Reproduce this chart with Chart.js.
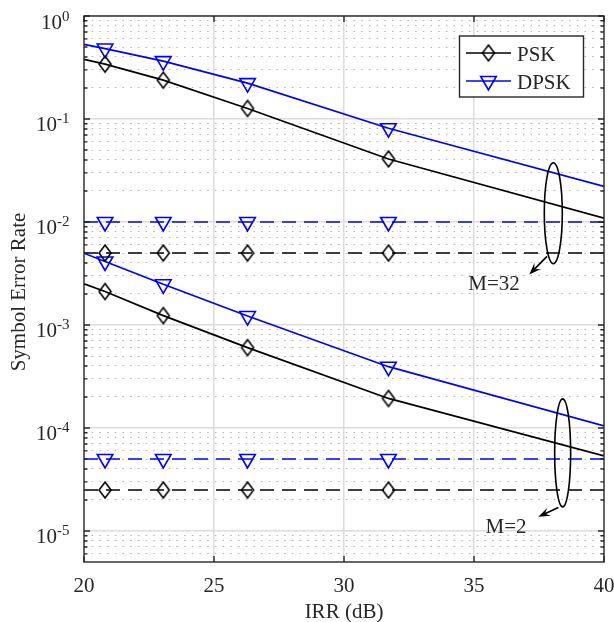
<!DOCTYPE html>
<html>
<head>
<meta charset="utf-8">
<title>Symbol Error Rate vs IRR</title>
<script src="https://cdn.jsdelivr.net/npm/chart.js@4.4.1/dist/chart.umd.min.js"></script>
<style>
    html, body { margin: 0; padding: 0; background: #ffffff; }
    #wrap { width: 614px; height: 622px; }
</style>
</head>
<body>
<div id="wrap"><canvas id="serChart" width="614" height="622"></canvas></div>
<script>
// IRR (dB) where the curves are evaluated; markers sit on the middle four
const irrPoints = [20, 20.81, 23.05, 26.29, 31.71, 40];
const markerShown = [false, true, true, true, true, false];

// M = 32
const pskM32 = [0.379, 0.341, 0.2384, 0.1265, 0.0409, 0.01091];
const dpskM32 = [0.5305, 0.483, 0.365, 0.2229, 0.0814, 0.0222];
const pskFloorM32 = [5e-3, 5e-3, 5e-3, 5e-3, 5e-3, 5e-3];
const dpskFloorM32 = [1e-2, 1e-2, 1e-2, 1e-2, 1e-2, 1e-2];

// M = 2
const pskM2 = [2.51e-3, 2.113e-3, 1.234e-3, 6.03e-4, 1.936e-4, 5.365e-5];
const dpskM2 = [4.98e-3, 4.137e-3, 2.483e-3, 1.221e-3, 3.938e-4, 1.05e-4];
const pskFloorM2 = [2.5e-5, 2.5e-5, 2.5e-5, 2.5e-5, 2.5e-5, 2.5e-5];
const dpskFloorM2 = [5e-5, 5e-5, 5e-5, 5e-5, 5e-5, 5e-5];

// axes
const xTicks = [20, 25, 30, 35, 40];
const yDecades = [1e-5, 1e-4, 1e-3, 1e-2, 1e-1, 1];
const yExponents = ['-5', '-4', '-3', '-2', '-1', '0'];
const yMinorSteps = [2, 3, 4, 5, 6, 7, 8, 9];
const yMin = 5e-6, yMax = 1;

const serif = '"Liberation Serif", "Times New Roman", serif';
const ink = '#262626';
const black = '#000000';
const blue = '#0000ff';

function diamondImage(color) {
    const c = document.createElement('canvas');
    c.width = 16; c.height = 20;
    const g = c.getContext('2d');
    g.strokeStyle = color;
    g.lineWidth = 1.6;
    g.beginPath();
    g.moveTo(8, 2); g.lineTo(14, 10); g.lineTo(8, 18); g.lineTo(2, 10);
    g.closePath();
    g.stroke();
    return c;
}

const diamondMarker = { pointStyle: diamondImage(black), rotation: 0, radius: 7 };
const triangleMarker = { pointStyle: 'triangle', rotation: 180, radius: 9 };

function series(values, color, marker, dashed, legendLabel) {
    return {
        label: legendLabel || '',
        showInLegend: !!legendLabel,
        data: irrPoints.map((x, i) => ({ x: x, y: values[i] })),
        borderColor: color,
        borderWidth: 1.7,
        borderDash: dashed ? [14, 8] : [],
        pointStyle: marker.pointStyle,
        pointRotation: marker.rotation,
        pointRadius: markerShown.map(m => m ? marker.radius : 0),
        pointHoverRadius: 0,
        pointBorderColor: color,
        pointBackgroundColor: 'rgba(0,0,0,0)',
        pointBorderWidth: 1.6,
        tension: 0,
        fill: false
    };
}

// ellipse + arrow callouts, anchored in data coordinates, offsets in px
const callouts = [
    { text: 'M=32', x: 38.05, y: 0.01218, rx: 9, ry: 50.5, from: [-6.3, 43.2], to: [-24, 61.2], label: [-59.3, 76.7] },
    { text: 'M=2', x: 38.41, y: 5.74e-5, rx: 8, ry: 54, from: [-4.3, 54.7], to: [-24.3, 64], label: [-56.6, 80.5] }
];

const minorValues = [];
[-6, -5, -4, -3, -2, -1].forEach(e => {
    yMinorSteps.forEach(m => {
        const v = m * Math.pow(10, e);
        if (v > yMin && v < yMax) minorValues.push(v);
    });
});

const decorations = {
    id: 'decorations',
    afterDraw(chart) {
        const ctx = chart.ctx;
        const a = chart.chartArea;
        const xs = chart.scales.x, ys = chart.scales.y;
        ctx.save();

        // axis box
        ctx.strokeStyle = ink;
        ctx.lineWidth = 1.4;
        ctx.strokeRect(a.left, a.top, a.right - a.left, a.bottom - a.top);

        // inward ticks
        ctx.beginPath();
        yDecades.forEach(v => {
            const py = ys.getPixelForValue(v);
            ctx.moveTo(a.left, py); ctx.lineTo(a.left + 6, py);
            ctx.moveTo(a.right, py); ctx.lineTo(a.right - 6, py);
        });
        minorValues.forEach(v => {
            const py = ys.getPixelForValue(v);
            ctx.moveTo(a.left, py); ctx.lineTo(a.left + 3.5, py);
            ctx.moveTo(a.right, py); ctx.lineTo(a.right - 3.5, py);
        });
        xTicks.forEach(v => {
            const px = xs.getPixelForValue(v);
            ctx.moveTo(px, a.bottom); ctx.lineTo(px, a.bottom - 6);
            ctx.moveTo(px, a.top); ctx.lineTo(px, a.top + 6);
        });
        ctx.stroke();

        // tick labels
        ctx.fillStyle = ink;
        ctx.font = '21px ' + serif;
        ctx.textAlign = 'center';
        ctx.textBaseline = 'alphabetic';
        xTicks.forEach(v => ctx.fillText(String(v), xs.getPixelForValue(v), 591.5));

        ctx.textAlign = 'right';
        yDecades.forEach((v, i) => {
            const py = ys.getPixelForValue(v);
            ctx.font = '15px ' + serif;
            const ew = ctx.measureText(yExponents[i]).width;
            ctx.fillText(yExponents[i], 69.5, py + 4.5);
            ctx.font = '21px ' + serif;
            ctx.fillText('10', 69.5 - ew, py + 12.5);
        });

        // axis titles
        ctx.font = '21px ' + serif;
        ctx.textAlign = 'center';
        ctx.fillText('IRR (dB)', (a.left + a.right) / 2, 618);
        ctx.save();
        ctx.translate(24.5, (a.top + a.bottom) / 2 + 3);
        ctx.rotate(-Math.PI / 2);
        ctx.fillText('Symbol Error Rate', 0, 0);
        ctx.restore();

        // callouts
        ctx.strokeStyle = black;
        ctx.fillStyle = black;
        ctx.lineWidth = 1.6;
        callouts.forEach(c => {
            const cx = xs.getPixelForValue(c.x), cy = ys.getPixelForValue(c.y);
            ctx.beginPath();
            ctx.ellipse(cx, cy, c.rx, c.ry, 0, 0, Math.PI * 2);
            ctx.stroke();
            const sx = cx + c.from[0], sy = cy + c.from[1];
            const tx = cx + c.to[0], ty = cy + c.to[1];
            const len = Math.hypot(tx - sx, ty - sy);
            const ux = (tx - sx) / len, uy = (ty - sy) / len;
            const nx = -uy, ny = ux;
            const L = 12, W = 9;
            ctx.beginPath();
            ctx.moveTo(sx, sy); ctx.lineTo(tx - ux * 6, ty - uy * 6);
            ctx.stroke();
            ctx.beginPath();
            ctx.moveTo(tx, ty);
            ctx.lineTo(tx - ux * L + nx * W / 2, ty - uy * L + ny * W / 2);
            ctx.lineTo(tx - ux * L * 0.6, ty - uy * L * 0.6);
            ctx.lineTo(tx - ux * L - nx * W / 2, ty - uy * L - ny * W / 2);
            ctx.closePath();
            ctx.fill();
            ctx.fillStyle = ink;
            ctx.font = '21px ' + serif;
            ctx.textAlign = 'center';
            ctx.fillText(c.text, cx + c.label[0], cy + c.label[1]);
            ctx.fillStyle = black;
        });

        // legend box
        const entries = chart.data.datasets.filter(d => d.showInLegend);
        const bx = 459.5, by = 36, bw = 124, bh = 61;
        ctx.fillStyle = '#ffffff';
        ctx.fillRect(bx, by, bw, bh);
        ctx.strokeStyle = ink;
        ctx.lineWidth = 1.4;
        ctx.strokeRect(bx, by, bw, bh);
        entries.forEach((d, i) => {
            const ry = 53 + i * 28;
            ctx.strokeStyle = d.borderColor;
            ctx.lineWidth = 1.7;
            ctx.setLineDash([]);
            ctx.beginPath();
            ctx.moveTo(466, ry); ctx.lineTo(511, ry);
            ctx.stroke();
            ctx.fillStyle = 'rgba(0,0,0,0)';
            ctx.lineWidth = 1.6;
            Chart.helpers.drawPoint(ctx, {
                pointStyle: d.pointStyle, rotation: d.pointRotation,
                radius: 9, borderWidth: 1.6
            }, 488.5, ry);
            ctx.fillStyle = ink;
            ctx.font = '21px ' + serif;
            ctx.textAlign = 'left';
            ctx.fillText(d.label, 517, ry + 8);
        });

        ctx.restore();
    }
};

new Chart(document.getElementById('serChart'), {
    type: 'line',
    data: {
        datasets: [
            series(pskM32, black, diamondMarker, false, 'PSK'),
            series(dpskM32, blue, triangleMarker, false, 'DPSK'),
            series(pskFloorM32, black, diamondMarker, true),
            series(dpskFloorM32, blue, triangleMarker, true),
            series(pskM2, black, diamondMarker, false),
            series(dpskM2, blue, triangleMarker, false),
            series(pskFloorM2, black, diamondMarker, true),
            series(dpskFloorM2, blue, triangleMarker, true)
        ]
    },
    options: {
        responsive: false,
        devicePixelRatio: 1,
        animation: false,
        events: [],
        layout: { padding: { left: 84, top: 16, right: 10, bottom: 60 } },
        plugins: { legend: { display: false }, tooltip: { enabled: false } },
        scales: {
            x: {
                type: 'linear', min: 20, max: 40,
                afterBuildTicks: ax => { ax.ticks = xTicks.map(v => ({ value: v })); },
                ticks: { display: false },
                grid: {
                    color: c => (c.tick && (c.tick.value === 20 || c.tick.value === 40)) ? 'rgba(0,0,0,0)' : '#dcdcdc',
                    lineWidth: 1.5, drawTicks: false
                },
                border: { display: false }
            },
            y: {
                type: 'logarithmic', min: yMin, max: yMax,
                afterBuildTicks: ax => { ax.ticks = yDecades.map(v => ({ value: v })); },
                ticks: { display: false },
                grid: { color: '#dcdcdc', lineWidth: 1.5, drawTicks: false },
                border: { display: false }
            },
            yMinor: {
                type: 'logarithmic', min: yMin, max: yMax, position: 'left',
                afterBuildTicks: ax => { ax.ticks = minorValues.map(v => ({ value: v })); },
                ticks: { display: false },
                grid: { color: '#b4b4b4', lineWidth: 1, drawTicks: false },
                border: { display: false, dash: [1.5, 6.2] }
            }
        }
    },
    plugins: [decorations]
});
</script>
</body>
</html>
